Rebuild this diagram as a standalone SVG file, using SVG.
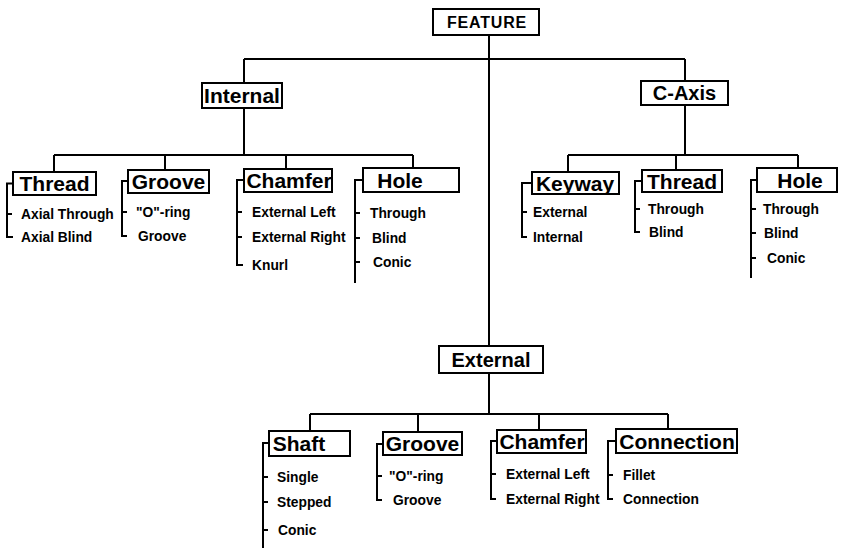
<svg xmlns="http://www.w3.org/2000/svg" width="843" height="548" viewBox="0 0 843 548">
<style>
.bx{fill:#fff;stroke:#000;stroke-width:2}
.ln{fill:none;stroke:#000;stroke-width:2}
.lb{font-family:"Liberation Sans",Arial,sans-serif;font-weight:bold;font-size:21px;fill:#000;text-anchor:middle}
.it{font-family:"Liberation Sans",Arial,sans-serif;font-weight:bold;font-size:13.8px;fill:#000}
</style>
<rect width="843" height="548" fill="#fff"/>
<g id="connectors" class="ln">
<path d="M489,35V346M244,59H685M244,59V83M685,59V81"/>
<path d="M244,108V155M54,155H413M54,155V172M165,155V170M286,155V169M413,155V168"/>
<path d="M685,105V155M568,155H798M568,155V172M676,155V170M798,155V168"/>
<path d="M489,373V414M310,414H668M310,414V431M418,414V432M539,414V430M668,414V429"/>
<path d="M13,183.5H7V237H13M7,214H12"/>
<path d="M128,181H122V236H127M122,212H127"/>
<path d="M244,180H237V265H243M237,212H242M237,237H242"/>
<path d="M363,180H355V283M355,213H360M355,238H360M355,262H360"/>
<path d="M532,183H522V237H527M522,212H527"/>
<path d="M642,181H635V232H640M635,209H640"/>
<path d="M757,180H751V278M751,209H756M751,233H756M751,258H756"/>
<path d="M269,443H263V548M263,477H268M263,502H268M263,530H268"/>
<path d="M383,444H377V500H382M377,476H382"/>
<path d="M497,441H491V499H496M491,474H496"/>
<path d="M616,441H608V499H613M608,475H613"/>
</g>
<g id="feature"><rect class="bx" x="433" y="9" width="106" height="26"/><text class="lb" x="487" y="28" style="font-size:16px;letter-spacing:0.8px">FEATURE</text></g>
<g id="internal"><rect class="bx" x="202" y="83" width="80" height="25"/><text class="lb" x="242" y="103">Internal</text></g>
<g id="c-axis"><rect class="bx" x="641" y="81" width="87" height="24"/><text class="lb" x="684.5" y="100" style="font-size:20px">C-Axis</text></g>
<g id="external"><rect class="bx" x="439" y="346" width="104" height="27"/><text class="lb" x="491" y="366.5" style="font-size:20px">External</text></g>

<g id="int-thread"><rect class="bx" x="13" y="172" width="83" height="23"/><text class="lb" x="54.5" y="191">Thread</text>
<text class="it" x="21" y="219">Axial Through</text><text class="it" x="21" y="242">Axial Blind</text></g>
<g id="int-groove"><rect class="bx" x="128" y="170" width="81" height="23"/><text class="lb" x="168.5" y="189">Groove</text>
<text class="it" x="136" y="217">"O"-ring</text><text class="it" x="138" y="241">Groove</text></g>
<g id="int-chamfer"><rect class="bx" x="244" y="169" width="88" height="23"/><text class="lb" x="289" y="188">Chamfer</text>
<text class="it" x="252" y="217">External Left</text><text class="it" x="252" y="242">External Right</text><text class="it" x="252" y="270">Knurl</text></g>
<g id="int-hole"><rect class="bx" x="363" y="168" width="96" height="24"/><text class="lb" x="400" y="187.5">Hole</text>
<text class="it" x="370" y="218">Through</text><text class="it" x="372" y="243">Blind</text><text class="it" x="373" y="267">Conic</text></g>

<g id="c-keyway"><rect class="bx" x="532" y="172" width="87" height="22"/><text class="lb" x="575" y="190.5">Keyway</text>
<text class="it" x="533" y="217">External</text><text class="it" x="533" y="242">Internal</text></g>
<g id="c-thread"><rect class="bx" x="642" y="170" width="80" height="22"/><text class="lb" x="682" y="188.5">Thread</text>
<text class="it" x="648" y="214">Through</text><text class="it" x="649" y="237">Blind</text></g>
<g id="c-hole"><rect class="bx" x="757" y="168" width="80" height="24"/><text class="lb" x="800" y="187.5">Hole</text>
<text class="it" x="763" y="214">Through</text><text class="it" x="764" y="238">Blind</text><text class="it" x="767" y="263">Conic</text></g>

<g id="ext-shaft"><rect class="bx" x="269" y="431" width="81" height="25"/><text class="lb" x="299" y="451">Shaft</text>
<text class="it" x="277" y="482">Single</text><text class="it" x="277" y="507">Stepped</text><text class="it" x="278" y="535">Conic</text></g>
<g id="ext-groove"><rect class="bx" x="383" y="432" width="79" height="23"/><text class="lb" x="422.5" y="451">Groove</text>
<text class="it" x="389" y="481">"O"-ring</text><text class="it" x="393" y="505">Groove</text></g>
<g id="ext-chamfer"><rect class="bx" x="497" y="430" width="89" height="23"/><text class="lb" x="542" y="449">Chamfer</text>
<text class="it" x="506" y="479">External Left</text><text class="it" x="506" y="504">External Right</text></g>
<g id="ext-connection"><rect class="bx" x="616" y="429" width="121" height="24"/><text class="lb" x="677" y="448.5">Connection</text>
<text class="it" x="623" y="480">Fillet</text><text class="it" x="623" y="504">Connection</text></g>
</svg>
